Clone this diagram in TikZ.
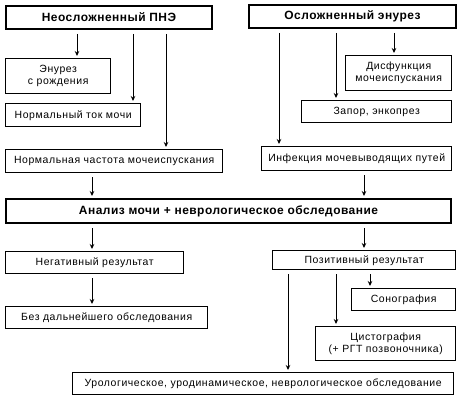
\documentclass[tikz,border=0pt]{standalone}
\usepackage{fontspec}
\setmainfont{Liberation Sans}[LetterSpace=5.5, BoldFeatures={LetterSpace=4}]
\usetikzlibrary{arrows.meta, positioning, calc}
\definecolor{colBorder}{RGB}{0,0,0}
\definecolor{colArrow}{RGB}{0,0,0}
\tikzset{
  box/.style={
    rectangle, draw=colBorder, line width=1.4pt,
    text centered, align=center, font=\fontsize{10.5}{12}\selectfont,
    inner sep=1pt, anchor=north west
  },
  mainBox/.style={box, line width=2pt, font=\fontsize{12}{14}\selectfont\bfseries},
  arr/.style={
    -{Stealth[length=5pt, width=4.5pt]}, line width=0.9pt, color=colArrow,
    shorten <=4bp, shorten >=2bp
  }
}

\begin{document}
\begin{tikzpicture}[x=1bp, y=-1bp]
  \useasboundingbox (0,0) rectangle (458,402);

  % top row
  \node[mainBox, minimum width=206bp, minimum height=23bp] (simple) at (5,5) {Неосложненный ПНЭ};
  \node[mainBox, minimum width=207bp, minimum height=23bp] (complic) at (248,4) {Осложненный энурез};

  % left column
  \node[box, minimum width=105bp, minimum height=35bp] (birth) at (5,58) {Энурез\\с рождения};
  \node[box, minimum width=135bp, minimum height=23bp] (flow) at (5,103) {Нормальный ток мочи};
  \node[box, minimum width=217bp, minimum height=23bp] (freq) at (5,149) {Нормальная частота мочеиспускания};

  % right column
  \node[box, minimum width=106bp, minimum height=35bp] (dysf) at (345,55) {Дисфункция\\мочеиспускания};
  \node[box, minimum width=150bp, minimum height=22bp] (constip) at (301,100) {Запор, энкопрез};
  \node[box, minimum width=190bp, minimum height=24bp] (infect) at (261,146) {Инфекция мочевыводящих путей};

  % analysis
  \node[mainBox, minimum width=445bp, minimum height=24bp] (analysis) at (5,198) {Анализ мочи + неврологическое обследование};

  % results
  \node[box, minimum width=178bp, minimum height=22bp] (neg) at (5,251) {Негативный результат};
  \node[box, minimum width=202bp, minimum height=22bp] (stop) at (5,306) {Без дальнейшего обследования};
  \node[box, minimum width=183bp, minimum height=19bp] (pos) at (272,250) {Позитивный результат};
  \node[box, minimum width=104bp, minimum height=22bp] (sono) at (351,288) {Сонография};
  \node[box, minimum width=140bp, minimum height=34bp] (cysto) at (315,326) {Цистография\\(+ РГТ позвоночника)};
  \node[box, minimum width=381bp, minimum height=22bp] (uro) at (72,372) {Урологическое, уродинамическое, неврологическое обследование};

  % arrow columns
  \coordinate (xa) at (77,0);
  \coordinate (xb) at (133,0);
  \coordinate (xc) at (166,0);
  \coordinate (xd) at (92,0);
  \coordinate (xe) at (394,0);
  \coordinate (xf) at (336,0);
  \coordinate (xg) at (279,0);
  \coordinate (xh) at (364,0);
  \coordinate (xi) at (370,0);
  \coordinate (xj) at (288,0);

  % uncomplicated branch
  \draw[arr] (simple.south -| xa) -- (birth.north -| xa);
  \draw[arr] (simple.south -| xb) -- (flow.north -| xb);
  \draw[arr] (simple.south -| xc) -- (freq.north -| xc);
  \draw[arr] (freq.south -| xd) -- (analysis.north -| xd);

  % complicated branch
  \draw[arr] (complic.south -| xe) -- (dysf.north -| xe);
  \draw[arr] (complic.south -| xf) -- (constip.north -| xf);
  \draw[arr] (complic.south -| xg) -- (infect.north -| xg);
  \draw[arr] (infect.south -| xh) -- (analysis.north -| xh);

  % negative result
  \draw[arr] (analysis.south -| xd) -- (neg.north -| xd);
  \draw[arr] (neg.south -| xd) -- (stop.north -| xd);

  % positive result
  \draw[arr] (analysis.south -| xh) -- (pos.north -| xh);
  \draw[arr] (pos.south -| xi) -- (sono.north -| xi);
  \draw[arr] (pos.south -| xf) -- (cysto.north -| xf);
  \draw[arr] (pos.south -| xj) -- (uro.north -| xj);

\end{tikzpicture}
\end{document}
